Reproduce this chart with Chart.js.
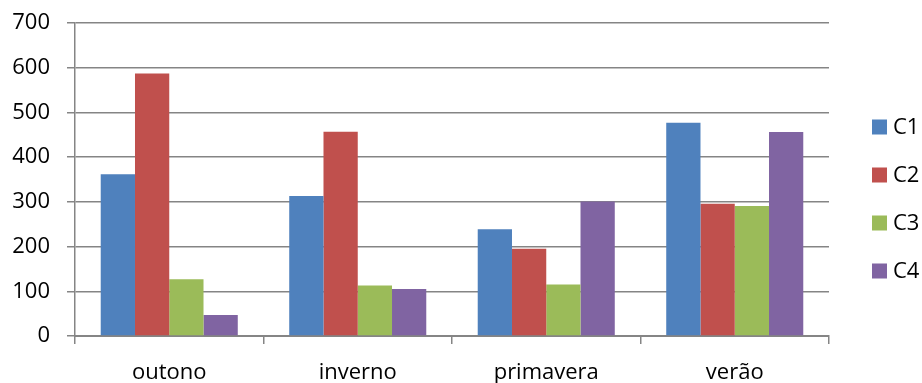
<!DOCTYPE html>
<html>
<head>
<meta charset="utf-8">
<script src="https://cdn.jsdelivr.net/npm/chart.js@4"></script>
<style>
  html, body { margin: 0; padding: 0; background: #ffffff; }
  #wrap { width: 922px; height: 383px; }
</style>
</head>
<body>
<div id="wrap"><canvas id="chart" width="922" height="383"></canvas></div>
<script>
// Seasons on the x axis
const categories = ['outono', 'inverno', 'primavera', 'verão'];

// One series per group
const seriesNames = ['C1', 'C2', 'C3', 'C4'];
const c1 = [362, 313, 239, 477];
const c2 = [587, 457, 195, 296];
const c3 = [127, 113, 115, 291];
const c4 = [47, 105, 301, 456];

// Value axis ticks
const yTicks = [0, 100, 200, 300, 400, 500, 600, 700];

const colors = ['#4F81BD', '#C0504D', '#9BBB59', '#8064A2'];
const FONT = '"Open Sans", sans-serif';
const GRID = '#858585';

const values = [c1, c2, c3, c4];

// Legend drawn on the right, one square + label per series
const sideLegend = {
  id: 'sideLegend',
  afterDraw(chart) {
    const ctx = chart.ctx;
    ctx.save();
    ctx.font = '22px ' + FONT;
    ctx.textBaseline = 'middle';
    ctx.textAlign = 'left';
    chart.data.datasets.forEach((ds, i) => {
      const cy = 127 + i * 48;
      ctx.fillStyle = ds.backgroundColor;
      ctx.fillRect(872, cy - 7.5, 15, 15);
      ctx.fillStyle = '#000000';
      ctx.fillText(ds.label, 893, cy + 1);
    });
    ctx.restore();
  }
};

new Chart(document.getElementById('chart'), {
  type: 'bar',
  data: {
    labels: categories,
    datasets: seriesNames.map((name, i) => ({
      label: name,
      data: values[i],
      backgroundColor: colors[i],
      borderWidth: 0,
      barPercentage: 1.0,
      categoryPercentage: 0.727
    }))
  },
  options: {
    responsive: false,
    animation: false,
    devicePixelRatio: 1,
    layout: { padding: { top: 23, right: 93, left: 0, bottom: 0 } },
    plugins: {
      legend: { display: false },
      tooltip: { enabled: false }
    },
    scales: {
      x: {
        grid: {
          offset: true,
          drawOnChartArea: false,
          drawTicks: true,
          tickLength: 8,
          color: GRID,
          lineWidth: 1.5
        },
        border: { display: true, color: GRID, width: 2 },
        ticks: {
          color: '#000000',
          font: { family: FONT, size: 22 },
          padding: 16,
          maxRotation: 0
        },
        afterFit(scale) {
          scale.height = 47;
          scale.paddingLeft = 0;
          scale.paddingRight = 0;
        }
      },
      y: {
        min: 0,
        max: 700,
        afterBuildTicks(scale) {
          scale.ticks = yTicks.map(v => ({ value: v }));
        },
        grid: {
          color: GRID,
          lineWidth: 1.5,
          drawTicks: true,
          tickLength: 8
        },
        border: { display: true, color: GRID, width: 1.5 },
        ticks: {
          color: '#000000',
          font: { family: FONT, size: 22 },
          padding: 17
        },
        afterFit(scale) {
          scale.width = 75;
          scale.paddingTop = 0;
          scale.paddingBottom = 0;
        }
      }
    }
  },
  plugins: [sideLegend]
});
</script>
</body>
</html>
